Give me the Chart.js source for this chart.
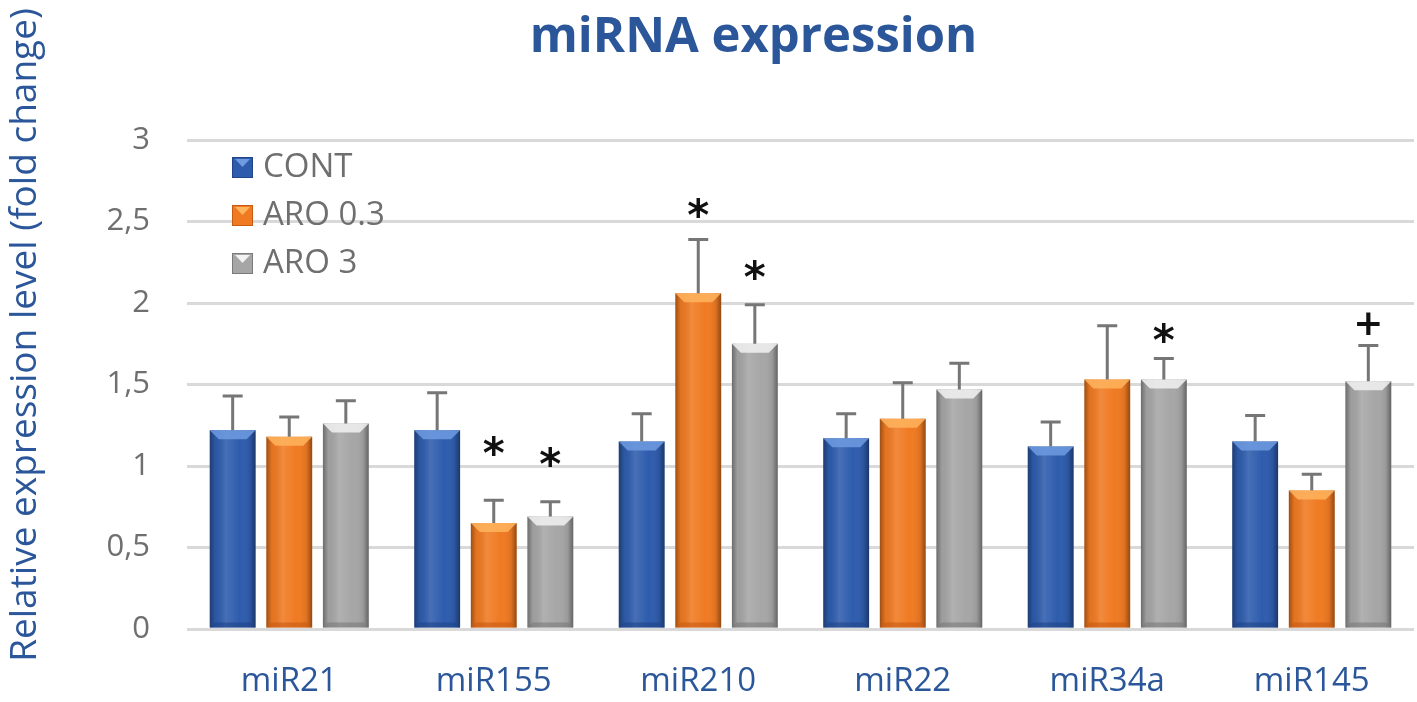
<!DOCTYPE html>
<html>
<head>
<meta charset="utf-8">
<script src="https://cdn.jsdelivr.net/npm/chart.js@4.4.1/dist/chart.umd.min.js"></script>
<style>
  html, body { margin: 0; padding: 0; background: #fff; }
  #wrap { width: 1417px; height: 702px; position: relative; }
</style>
</head>
<body>
<div id="wrap"><canvas id="mirChart"></canvas></div>
<script>
// ---- data ----
const genes = ['miR21', 'miR155', 'miR210', 'miR22', 'miR34a', 'miR145'];
const seriesNames = ['CONT', 'ARO 0.3', 'ARO 3'];

const contVals = [1.22, 1.22, 1.15, 1.17, 1.12, 1.15];
const aro03Vals = [1.18, 0.65, 2.06, 1.29, 1.53, 0.85];
const aro3Vals = [1.26, 0.69, 1.75, 1.47, 1.53, 1.52];

// top of the (upper only) error bars
const contErrTop = [1.43, 1.45, 1.32, 1.32, 1.27, 1.31];
const aro03ErrTop = [1.30, 0.79, 2.39, 1.51, 1.86, 0.95];
const aro3ErrTop = [1.40, 0.78, 1.99, 1.63, 1.66, 1.74];

// significance marks: [series index, gene index, symbol, level]
const sigMarks = [
    [1, 1, '*', 1.10],
    [2, 1, '*', 1.03],
    [1, 2, '*', 2.56],
    [2, 2, '*', 2.18],
    [2, 4, '*', 1.79],
    [2, 5, '+', 1.86]
];

const yTicks = [0, 0.5, 1, 1.5, 2, 2.5, 3];

const titleText = 'miRNA expression';
const yTitleText = 'Relative expression level (fold change)';

const baseColors = ['#2e5cad', '#f07a22', '#a6a6a6'];
const darkColors = ['#1f4488', '#c85a12', '#7a7a7a'];
const lightColors = ['#6f9be0', '#ffb45e', '#f2f2f2'];

const FONT = "'Open Sans', 'Noto Sans', sans-serif";
const BLUE = '#2b579a';

// error bars + bevel shading + stars, all from the bar elements
const decorPlugin = {
    id: 'decor',
    afterDatasetsDraw(chart) {
        const ctx = chart.ctx;
        const y = chart.scales.y;
        const errs = [contErrTop, aro03ErrTop, aro3ErrTop];

        chart.data.datasets.forEach((ds, di) => {
            const meta = chart.getDatasetMeta(di);
            meta.data.forEach((bar, i) => {
                const left = bar.x - bar.width / 2;
                const right = bar.x + bar.width / 2;
                const top = bar.y;
                const bottom = bar.base;

                // side shading for the rounded look
                ctx.save();
                const g = ctx.createLinearGradient(left, 0, right, 0);
                g.addColorStop(0, 'rgba(0,0,0,0.35)');
                g.addColorStop(0.12, 'rgba(0,0,0,0.05)');
                g.addColorStop(0.35, 'rgba(255,255,255,0.12)');
                g.addColorStop(0.65, 'rgba(255,255,255,0.0)');
                g.addColorStop(0.88, 'rgba(0,0,0,0.08)');
                g.addColorStop(1, 'rgba(0,0,0,0.4)');
                ctx.fillStyle = g;
                ctx.fillRect(left, top, right - left, bottom - top);

                // top bevel
                const bev = 9;
                ctx.beginPath();
                ctx.moveTo(left, top);
                ctx.lineTo(right, top);
                ctx.lineTo(right - bev, top + bev);
                ctx.lineTo(left + bev, top + bev);
                ctx.closePath();
                ctx.fillStyle = lightColors[di];
                ctx.globalAlpha = 0.85;
                ctx.fill();
                ctx.globalAlpha = 1;

                // bottom bevel
                ctx.beginPath();
                ctx.moveTo(left, bottom);
                ctx.lineTo(right, bottom);
                ctx.lineTo(right - 5, bottom - 5);
                ctx.lineTo(left + 5, bottom - 5);
                ctx.closePath();
                ctx.fillStyle = darkColors[di];
                ctx.globalAlpha = 0.6;
                ctx.fill();
                ctx.restore();

                // error bar (upper)
                const ey = y.getPixelForValue(errs[di][i]);
                ctx.save();
                ctx.strokeStyle = '#767676';
                ctx.lineWidth = 3;
                ctx.beginPath();
                ctx.moveTo(bar.x, top);
                ctx.lineTo(bar.x, ey);
                ctx.moveTo(bar.x - 10, ey);
                ctx.lineTo(bar.x + 10, ey);
                ctx.stroke();
                ctx.restore();
            });
        });

        // significance marks
        ctx.save();
        ctx.fillStyle = '#111';
        ctx.textAlign = 'center';
        ctx.textBaseline = 'middle';
        sigMarks.forEach(m => {
            const bar = chart.getDatasetMeta(m[0]).data[m[1]];
            const py = y.getPixelForValue(m[3]);
            if (m[2] === '*') {
                ctx.font = "bold 42px 'DejaVu Sans', sans-serif";
                ctx.fillText('*', bar.x, py + 7);
            } else {
                ctx.font = "bold 36px 'DejaVu Sans', sans-serif";
                ctx.fillText('+', bar.x, py);
            }
        });
        ctx.restore();

        // legend inside plot area
        ctx.save();
        ctx.font = '33px ' + FONT;
        ctx.textBaseline = 'middle';
        ctx.textAlign = 'left';
        const lx = 232;
        chart.data.datasets.forEach((ds, di) => {
            const ly = 167 + di * 48;
            ctx.fillStyle = baseColors[di];
            ctx.fillRect(lx, ly - 10, 21, 21);
            ctx.beginPath();
            ctx.moveTo(lx + 3, ly - 8);
            ctx.lineTo(lx + 18, ly - 8);
            ctx.lineTo(lx + 10.5, ly);
            ctx.closePath();
            ctx.fillStyle = lightColors[di];
            ctx.fill();
            ctx.strokeStyle = darkColors[di];
            ctx.lineWidth = 1;
            ctx.strokeRect(lx + 0.5, ly - 9.5, 20, 20);
            ctx.fillStyle = '#6f6f6f';
            ctx.fillText(ds.label, lx + 31, ly + 1);
        });
        ctx.restore();
    },
    afterDraw(chart) {
        const ctx = chart.ctx;
        ctx.save();
        // main title
        ctx.fillStyle = BLUE;
        ctx.textAlign = 'center';
        ctx.textBaseline = 'middle';
        ctx.font = 'bold 49px ' + FONT;
        ctx.fillText(titleText, chart.width / 2 + 45, 38);
        // y axis title
        ctx.translate(25, 335);
        ctx.rotate(-Math.PI / 2);
        ctx.font = '37px ' + FONT;
        ctx.fillText(yTitleText, 0, 0);
        ctx.restore();
    }
};

const ctx = document.getElementById('mirChart').getContext('2d');

new Chart(ctx, {
    type: 'bar',
    data: {
        labels: genes,
        datasets: [
            { label: seriesNames[0], data: contVals, backgroundColor: baseColors[0] },
            { label: seriesNames[1], data: aro03Vals, backgroundColor: baseColors[1] },
            { label: seriesNames[2], data: aro3Vals, backgroundColor: baseColors[2] }
        ]
    },
    options: {
        responsive: true,
        maintainAspectRatio: false,
        animation: false,
        devicePixelRatio: 1,
        layout: { padding: { top: 140, right: 3, bottom: 0, left: 0 } },
        datasets: {
            bar: { categoryPercentage: 0.83, barPercentage: 0.81, borderWidth: 0 }
        },
        plugins: {
            legend: { display: false },
            tooltip: { enabled: false },
            title: { display: false }
        },
        scales: {
            x: {
                grid: { display: false },
                border: { display: false },
                afterFit(axis) { axis.height = 73; },
                ticks: {
                    color: BLUE,
                    font: { family: FONT, size: 33 },
                    padding: 25
                }
            },
            y: {
                min: 0,
                max: 3,
                afterBuildTicks(axis) {
                    axis.ticks = yTicks.map(v => ({ value: v }));
                },
                afterFit(axis) { axis.width = 187; },
                grid: { color: '#d9d9d9', lineWidth: 3, drawTicks: false },
                border: { display: false },
                ticks: {
                    color: '#6f6f6f',
                    font: { family: FONT, size: 31 },
                    padding: 37,
                    callback: v => String(v).replace('.', ',')
                }
            }
        }
    },
    plugins: [decorPlugin]
});
</script>
</body>
</html>
